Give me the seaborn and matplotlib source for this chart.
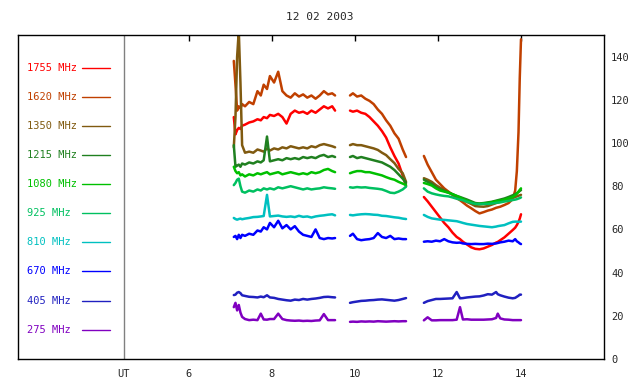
import matplotlib
matplotlib.use("Agg")
import matplotlib.pyplot as plt
import pandas as pd
import seaborn as sns

# UT hours of the three observing segments
t_seg1 = [7.08, 7.12, 7.16, 7.2, 7.24, 7.28, 7.35, 7.45, 7.55, 7.65, 7.73, 7.8, 7.88, 7.95,
          8.05, 8.15, 8.25, 8.35, 8.45, 8.55, 8.65, 8.75, 8.85, 8.95, 9.05, 9.15, 9.25, 9.35,
          9.45, 9.52]
t_seg2 = [9.88, 9.95, 10.05, 10.15, 10.25, 10.35, 10.45, 10.55, 10.65, 10.75, 10.85, 10.95,
          11.05, 11.15, 11.23]
t_seg3 = [11.66, 11.75, 11.85, 11.95, 12.05, 12.15, 12.25, 12.35, 12.45, 12.53, 12.6, 12.7,
          12.8, 12.9, 13.0, 13.1, 13.2, 13.3, 13.4, 13.44, 13.5, 13.6, 13.7, 13.8, 13.86, 13.9,
          13.94, 13.97, 14.0]

freqs = ["1755 MHz", "1620 MHz", "1350 MHz", "1215 MHz", "1080 MHz",
         "925 MHz", "810 MHz", "670 MHz", "405 MHz", "275 MHz"]
colors = ["#ff0000", "#c04000", "#805a10", "#208020", "#00c000",
          "#00c060", "#00c0c0", "#0000ff", "#2020c0", "#8000c0"]

# flux values, segment 1 + segment 2 + segment 3
v1755 = [112, 104, 106, 107, 106.5, 108, 108.5, 109.5, 110, 111, 110.5, 112, 111.5, 113,
         112.5, 113.5, 112, 109, 113.5, 115, 114, 114.5, 113.5, 115, 114, 115.5, 117, 116, 117, 115,
         115, 114.5, 115, 114, 113.5, 112, 110, 108, 105.5, 102.5, 98, 94, 90.5, 85, 80,
         75, 73, 70.5, 68, 65.5, 63, 61, 58.5, 56.5, 55.5, 54.3, 53, 51.7, 51, 50.8, 51.2, 52,
         52.8, 53.9, 54.2, 55, 56.3, 58, 59.7, 60.8, 62, 63.5, 65, 67]
v1620 = [138, 127, 115, 117, 116, 118, 117, 119, 118, 124, 122, 127, 125, 131,
         128, 133, 124, 122, 121, 123, 121.5, 122.5, 121, 122, 120.5, 122, 124, 122.5, 123, 122,
         122, 123, 121.5, 122, 120.5, 119.5, 118, 115.5, 113.5, 110.5, 108, 104.5, 102, 97, 93.5,
         94, 90, 86.5, 83, 81, 79, 77.5, 76, 74.5, 73.5, 72.5, 71, 69.8, 68.5, 67.4, 68, 68.7,
         69.2, 70, 70.2, 70.5, 71.3, 72.2, 74, 78, 87, 105, 130, 148]
v1350 = [98, 112, 140, 152, 128, 99, 95.5, 96, 95.5, 97, 96.5, 96, 97.5, 96.5,
         97.5, 97, 98, 97.5, 98.5, 98, 97.5, 98, 97.5, 98.5, 98, 99, 99.5, 99, 98.5, 98,
         99, 99.5, 99, 99, 98.5, 98, 97.5, 96.8, 95.5, 94.4, 92.5, 90.7, 88, 86, 82,
         83.7, 83, 82, 80.5, 79.3, 78.3, 77.3, 76.2, 75.2, 74.4, 73.6, 72.7, 71.8, 70.8, 70.6,
         70.5, 70.8, 71.5, 72.2, 72.4, 72.8, 73.4, 74, 74.6, 75, 75.3, 75.6, 75.8, 76]
v1215 = [99, 89, 89.5, 90, 89, 90.5, 90, 91, 90.5, 91.5, 91, 92, 103, 91.5,
         92, 92.5, 92, 93, 92.5, 93, 92.5, 93.5, 93, 93.5, 93, 94, 94.5, 93.5, 94, 93.5,
         93.5, 94, 93, 93.5, 93, 92.5, 92, 91.5, 91, 90, 89, 87.5, 85.5, 83.5, 81.5,
         83, 82, 81, 79.5, 78.5, 77.8, 77, 76.3, 75.5, 75, 74.5, 73.8, 73, 72.2, 72, 72.2, 72.5,
         72.8, 73.3, 73.5, 73.8, 74.3, 75, 75.8, 76.3, 76.8, 77.3, 77.8, 78.2]
v1080 = [89, 87, 86, 86.5, 85, 85.5, 84.5, 85.5, 85, 86, 85.5, 86, 86.5, 85.5,
         86, 86.5, 85.5, 86, 86.5, 86, 85.5, 86, 85.5, 86.5, 86, 86.5, 87.5, 88, 87, 86.5,
         86, 86.5, 87, 87, 86.5, 86.5, 86, 85.5, 85, 84.2, 83.5, 83, 82, 81.2, 80.5,
         81.5, 81, 80.3, 79, 78, 77.5, 77, 76.3, 75.5, 74.8, 74, 73.3, 72.5, 71.8, 71.8, 72,
         72.2, 72.6, 73, 73.2, 73.3, 73.8, 74.4, 75, 75.8, 76.5, 77.5, 78.3, 79]
v925 = [80.5, 81.5, 83, 83.5, 80, 77.5, 77, 78, 77.5, 78.5, 78, 79, 78.5, 79,
        78.5, 79.5, 79, 79.5, 80, 79.5, 79, 78.5, 79, 78.5, 78.8, 79, 79.5, 79.2, 79, 78.8,
        79.5, 79.3, 79.6, 79.4, 79.5, 79.2, 79, 78.8, 78.5, 77.8, 77, 76.8, 77.5, 78.5, 79.8,
        79, 77.5, 76.7, 76.2, 75.8, 75.5, 75.3, 74.8, 74.2, 73.8, 73.5, 72.8, 72.3, 71.8, 71.7,
        71.8, 71.8, 72, 72.3, 72.4, 72.5, 72.9, 73.2, 73.6, 73.8, 74, 74.3, 74.5, 74.8]
v810 = [65.3, 64.8, 64.5, 64.8, 65, 64.7, 65, 65.3, 65.7, 65.8, 66, 66.2, 76, 66,
        66.2, 66.4, 66, 65.8, 66, 65.7, 66.3, 65.8, 66, 65.5, 66, 66.3, 66.5, 66.8, 67, 66.5,
        66.7, 66.5, 66.8, 67, 67.1, 67, 66.8, 66.7, 66.3, 66.2, 65.9, 65.6, 65.4, 65, 64.8,
        66.7, 65.8, 65.1, 64.8, 64.5, 64.4, 64.2, 64, 63.8, 63.4, 63, 62.5, 62.2, 61.9, 61.6,
        61.4, 61.2, 61, 61.3, 61.5, 61.7, 62, 62.8, 63.5, 63.6, 63.6, 63.5, 63.6, 63.6]
v670 = [56.5, 57, 55.5, 57.5, 56, 57.5, 57, 58, 57.5, 59.5, 59, 61, 60, 63,
        61, 64, 60.5, 62, 60, 61.5, 59, 57.5, 57, 56.5, 60, 56, 55.5, 56, 55.8, 56,
        57, 58, 55.5, 55, 55.3, 55.5, 56, 58.3, 56.5, 56, 57, 55.5, 55.8, 55.5, 55.5,
        54.3, 54.5, 54.3, 54.8, 54.5, 55.5, 54.5, 54, 53.8, 53.9, 53.5, 53.3, 53.2, 53.3, 53.2,
        53.2, 53.4, 53.3, 53.5, 53.7, 54, 54.3, 54.8, 54.5, 55.5, 54.5, 54, 53.5, 53.2]
v405 = [29.6, 29.8, 30.7, 31, 30.5, 29.5, 29.2, 28.8, 28.7, 28.5, 28.9, 28.6, 29.5, 28.5,
        28.3, 27.8, 27.5, 27.2, 27, 27.5, 27.3, 27.8, 27.5, 27.8, 28, 28.3, 28.7, 28.8, 28.6, 28.5,
        26, 26.3, 26.6, 26.9, 27, 27.2, 27.3, 27.5, 27.6, 27.4, 27.2, 27, 27.3, 27.8, 28.2,
        26, 26.8, 27.3, 27.8, 27.8, 27.9, 28, 28.1, 31, 28.1, 28.2, 28.5, 28.7, 28.9, 29,
        29.4, 30, 29.8, 31, 30, 29.5, 28.9, 28.4, 28.1, 28.3, 28.8, 29.3, 29.8, 29.8]
v275 = [24, 26, 22.5, 25, 21.5, 19.5, 18.5, 18, 18.2, 18, 21, 18.3, 18.2, 18.5,
        18.5, 21, 18.5, 18, 17.8, 17.7, 17.8, 17.6, 17.7, 17.6, 17.8, 17.9, 20.8, 18, 18, 18,
        17.2, 17.3, 17.2, 17.4, 17.3, 17.4, 17.3, 17.5, 17.4, 17.3, 17.4, 17.5, 17.4, 17.5, 17.5,
        17.9, 19.3, 17.9, 17.9, 18, 18, 18, 18, 18.2, 24, 18.3, 18.4, 18.2, 18.2, 18.2,
        18.2, 18.3, 18.4, 19, 21, 18.8, 18.3, 18.2, 18, 18, 18, 18, 18, 18]

series = [v1755, v1620, v1350, v1215, v1080, v925, v810, v670, v405, v275]

times = t_seg1 + t_seg2 + t_seg3
segs = [1] * len(t_seg1) + [2] * len(t_seg2) + [3] * len(t_seg3)
rows = []
for f, vals in zip(freqs, series):
    for t, s, v in zip(times, segs, vals):
        rows.append({"ut": t, "seg": s, "freq": f, "flux": v})
df = pd.DataFrame(rows)

sns.set_style("white")
plt.rcParams["font.family"] = ["DejaVu Sans Mono"]

fig = plt.figure(figsize=(6.4, 3.84), dpi=100)
ax = fig.add_axes([18 / 640, 25 / 384, 586 / 640, 324 / 384])

sns.lineplot(data=df, x="ut", y="flux", hue="freq", units="seg", estimator=None,
             hue_order=freqs, palette=dict(zip(freqs, colors)), sort=False,
             lw=1.8, legend=False, ax=ax)

ax.set_xlim(1.88, 16)
ax.set_ylim(0, 150)
ax.set_xlabel("")
ax.set_ylabel("")

ax.set_xticks([6, 8, 10, 12, 14])
ax.tick_params(axis="x", direction="in", top=True, length=4, width=1,
               labelsize=7.5, pad=7, color="black")
ax.yaxis.tick_right()
ax.set_yticks(range(0, 141, 20))
ax.tick_params(axis="y", length=0, labelsize=7.5, pad=5)
for sp in ax.spines.values():
    sp.set_color("black")
    sp.set_linewidth(1)

# UT divider
ax.axvline(4.43, color="#808080", lw=1)
ax.text(4.43, -0.03, "UT", transform=ax.get_xaxis_transform(),
        ha="center", va="top", fontsize=7.5)

# frequency legend on the left
for i, (f, c) in enumerate(zip(freqs, colors)):
    y = 1 - (32.7 + i * 29.1) / 324
    ax.text(0.0154, y, f, color=c, transform=ax.transAxes, va="center", fontsize=7.5)
    ax.plot([64 / 586, 92 / 586], [y, y], color=c, lw=1, transform=ax.transAxes)

fig.text(0.5, 1 - 17 / 384, "12 02 2003", ha="center", va="center", fontsize=8)

fig.savefig("out.png", dpi=100)
